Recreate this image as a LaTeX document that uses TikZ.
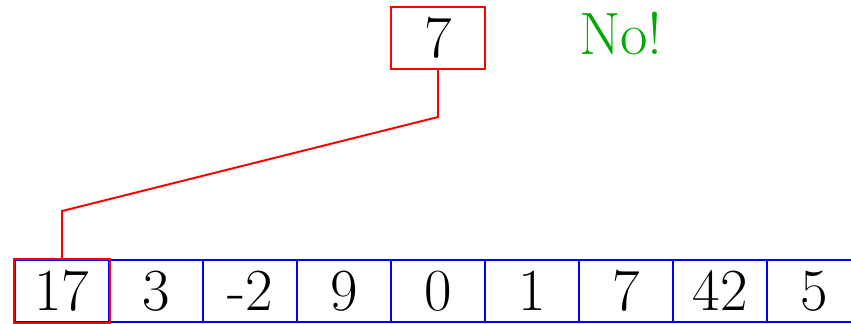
\documentclass[tikz,border=0pt]{standalone}
\usepackage{tikz}
\usetikzlibrary{positioning}
\definecolor{nogreen}{RGB}{0,170,0}

\begin{document}
\begin{tikzpicture}[cell/.style={draw=blue, line width=1.1pt, minimum width=1.88cm, minimum height=1.24cm, inner sep=0pt, font=\fontsize{34}{40}\selectfont}]
	\clip (0,0) rectangle (17.02,6.48);
	\foreach \v [count=\i from 0] in {17,3,-2,9,0,1,7,42,5} {
		\node[cell] (c\i) at ({1.24+1.88*\i},0.66) {\v};
	}
	\draw[red, line width=1.1pt] (c0.south west) rectangle (c0.north east);
	\node[cell, draw=red, above=3.78cm of c4] (key) {7};
	\node[font=\fontsize{34}{40}\selectfont, text=nogreen, anchor=base] (no) at (12.42,5.38) {No!};
	\coordinate[below=0.94cm of key.south] (high);
	\coordinate[above=0.96cm of c0.north] (low);
	\draw[red, line width=1.1pt] (key.south) -- (high) -- (low) -- (c0.north);
\end{tikzpicture}
\end{document}
